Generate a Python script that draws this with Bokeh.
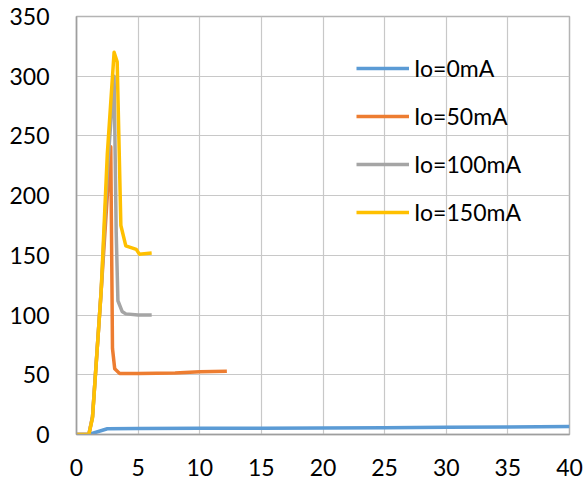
from bokeh.plotting import figure
from bokeh.models import Range1d, FixedTicker, Legend, LegendItem
from bokeh.embed import file_html
from bokeh.resources import INLINE

# Data
x_io0 = [0, 1, 2.5, 5, 10, 15, 20, 25, 30, 35, 40]
y_io0 = [0, 0, 4.8, 5.1, 5.2, 5.3, 5.5, 5.7, 6.0, 6.3, 6.7]

x_io50 = [0, 1, 1.3, 2, 2.5, 2.78, 2.92, 3.1, 3.5, 5, 8, 10, 12.2]
y_io50 = [0, 0, 15, 120, 200, 241, 72, 55, 51, 51, 51.5, 52.5, 53]

x_io100 = [0, 1, 1.3, 2, 2.5, 3.05, 3.22, 3.36, 3.7, 4, 5, 6.1]
y_io100 = [0, 0, 15, 120, 220, 300, 170, 112, 103, 101, 100, 100]

x_io150 = [0, 1, 1.3, 2, 2.5, 3.05, 3.3, 3.6, 4.0, 4.85, 5.1, 6.1]
y_io150 = [0, 0, 14, 120, 235, 320, 312, 175, 158, 155, 151, 152]

labels = ["Io=0mA", "Io=50mA", "Io=100mA", "Io=150mA"]
colors = ["#5B9BD5", "#ED7D31", "#A5A5A5", "#FFC000"]
x_ticks = [0, 5, 10, 15, 20, 25, 30, 35, 40]
y_ticks = [0, 50, 100, 150, 200, 250, 300, 350]

FONT = "Lato"
FS = "23px"

p = figure(width=585, height=479, output_backend="svg", toolbar_location=None,
           x_range=Range1d(0, 40), y_range=Range1d(0, 350),
           min_border_left=76, min_border_right=16, min_border_top=16, min_border_bottom=45)

p.outline_line_color = "#b4b4b4"
p.outline_line_width = 1.5
p.background_fill_color = "white"
p.border_fill_color = "white"

for ax in (p.xaxis[0], p.yaxis[0]):
    ax.axis_line_color = "#9e9e9e"
    ax.axis_line_width = 1.5
    ax.major_tick_line_color = None
    ax.minor_tick_line_color = None
    ax.major_tick_in = 0
    ax.major_tick_out = 0
    ax.major_label_text_font = FONT
    ax.major_label_text_font_size = FS
    ax.major_label_text_color = "black"

p.xaxis.ticker = FixedTicker(ticks=x_ticks)
p.yaxis.ticker = FixedTicker(ticks=y_ticks)
p.xaxis.major_label_standoff = 24
p.yaxis.major_label_standoff = 27

p.xgrid.ticker = FixedTicker(ticks=x_ticks)
p.ygrid.ticker = FixedTicker(ticks=y_ticks)
p.xgrid.grid_line_color = "#c8c8c8"
p.ygrid.grid_line_color = "#c8c8c8"
p.xgrid.grid_line_width = 1.2
p.ygrid.grid_line_width = 1.2

series = [(x_io0, y_io0), (x_io50, y_io50), (x_io100, y_io100), (x_io150, y_io150)]
items = []
for (xs, ys), lab, col in zip(series, labels, colors):
    r = p.line(xs, ys, line_color=col, line_width=3.5, line_join="round")
    items.append(LegendItem(label=lab, renderers=[r]))

legend = Legend(items=items, location=(280, 208), orientation="vertical",
                glyph_width=53, glyph_height=28, label_height=28, spacing=20,
                label_standoff=5, padding=0, margin=0,
                background_fill_alpha=0, border_line_color=None,
                label_text_font=FONT, label_text_font_size=FS, label_text_color="black")
p.add_layout(legend, "center")

open("out.html", "w").write(file_html(p, INLINE))
